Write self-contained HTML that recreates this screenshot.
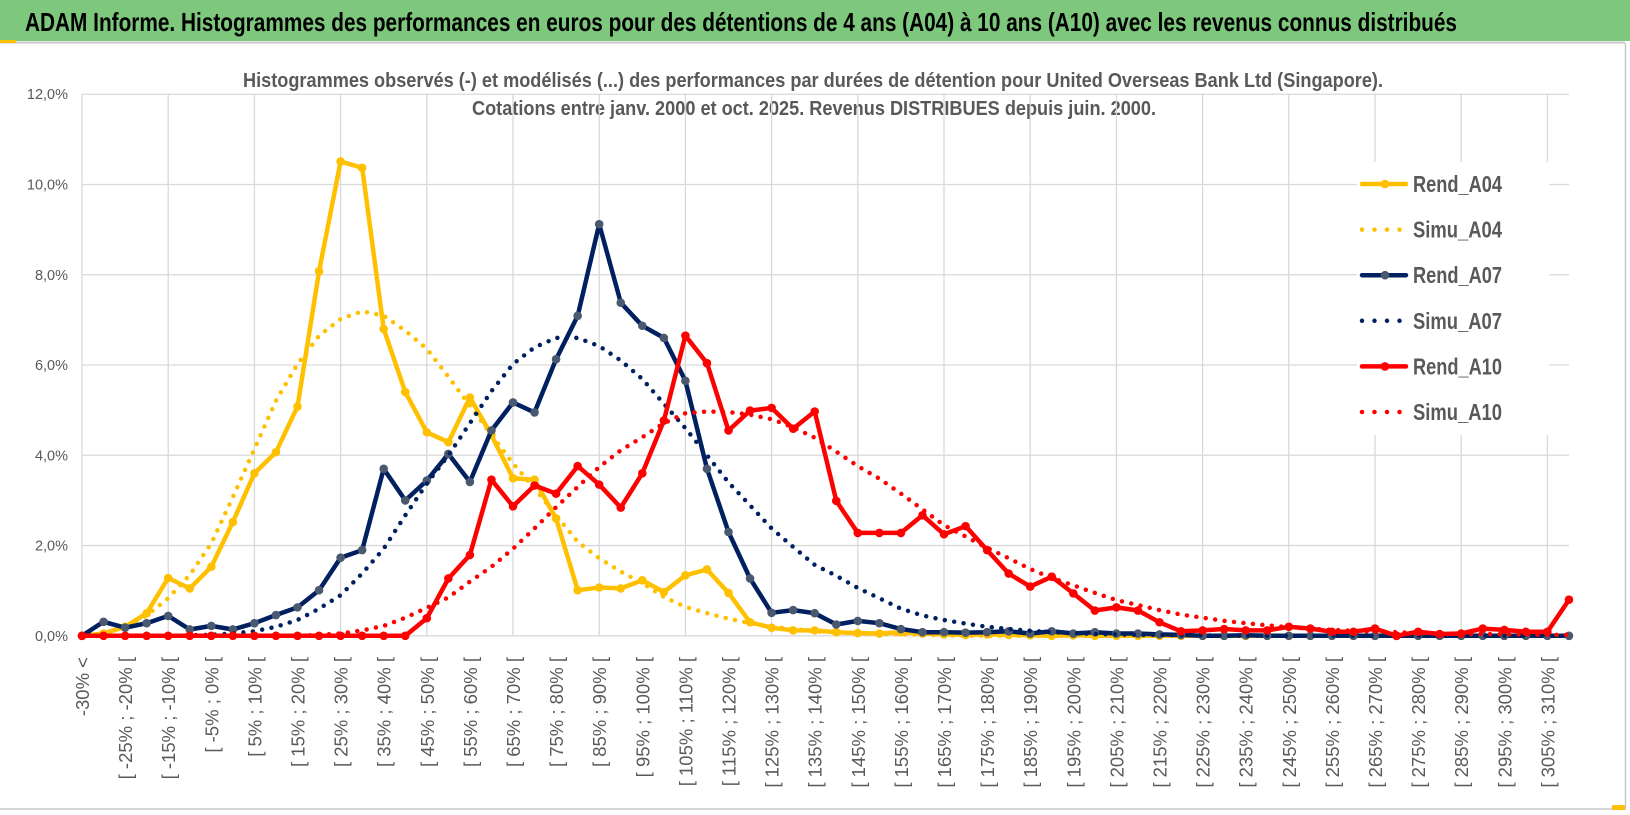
<!DOCTYPE html>
<html><head><meta charset="utf-8"><style>
html,body{margin:0;padding:0;background:#fff;}
svg{display:block;font-family:"Liberation Sans",sans-serif;}
</style></head><body>
<svg id="chart" width="1630" height="815" viewBox="0 0 1630 815">
<rect x="0" y="0" width="1630" height="815" fill="#fff"/>
<rect x="0" y="0" width="1630" height="41" fill="#7dc87d"/>
<line x1="0" y1="42.5" x2="1625" y2="42.5" stroke="#c8c8c8" stroke-width="2"/>
<rect x="0" y="40" width="16" height="3" fill="#ffc000"/>
<line x1="1625.5" y1="43" x2="1625.5" y2="809" stroke="#c8c8c8" stroke-width="1.5"/>
<line x1="0" y1="809" x2="1626" y2="809" stroke="#c8c8c8" stroke-width="1.5"/>
<rect x="1612" y="805" width="13" height="5" fill="#ffc000"/>
<text x="25" y="31" font-size="26" font-weight="bold" fill="#000" textLength="1432" lengthAdjust="spacingAndGlyphs">ADAM Informe. Histogrammes des performances en euros pour des détentions de 4 ans (A04) à 10 ans (A10) avec les revenus connus distribués</text>
<text x="243" y="87" font-size="20" font-weight="bold" fill="#595959" textLength="1140" lengthAdjust="spacingAndGlyphs">Histogrammes observés (-) et modélisés (...) des performances par durées de détention pour United Overseas Bank Ltd (Singapore).</text>
<text x="472" y="115" font-size="20" font-weight="bold" fill="#595959" textLength="684" lengthAdjust="spacingAndGlyphs">Cotations entre janv. 2000 et oct. 2025.  Revenus DISTRIBUES depuis juin. 2000.</text>
<g id="grid"></g>
<g id="yaxis"></g>
<g id="xaxis"></g>
<g id="series"></g>
<g id="legend"></g>
</svg>
<script>
const categories = ["-30% <","[ -30% ; -25% [","[ -25% ; -20% [","[ -20% ; -15% [","[ -15% ; -10% [","[ -10% ; -5% [","[ -5% ; 0% [","[ 0% ; 5% [","[ 5% ; 10% [","[ 10% ; 15% [","[ 15% ; 20% [","[ 20% ; 25% [","[ 25% ; 30% [","[ 30% ; 35% [","[ 35% ; 40% [","[ 40% ; 45% [","[ 45% ; 50% [","[ 50% ; 55% [","[ 55% ; 60% [","[ 60% ; 65% [","[ 65% ; 70% [","[ 70% ; 75% [","[ 75% ; 80% [","[ 80% ; 85% [","[ 85% ; 90% [","[ 90% ; 95% [","[ 95% ; 100% [","[ 100% ; 105% [","[ 105% ; 110% [","[ 110% ; 115% [","[ 115% ; 120% [","[ 120% ; 125% [","[ 125% ; 130% [","[ 130% ; 135% [","[ 135% ; 140% [","[ 140% ; 145% [","[ 145% ; 150% [","[ 150% ; 155% [","[ 155% ; 160% [","[ 160% ; 165% [","[ 165% ; 170% [","[ 170% ; 175% [","[ 175% ; 180% [","[ 180% ; 185% [","[ 185% ; 190% [","[ 190% ; 195% [","[ 195% ; 200% [","[ 200% ; 205% [","[ 205% ; 210% [","[ 210% ; 215% [","[ 215% ; 220% [","[ 220% ; 225% [","[ 225% ; 230% [","[ 230% ; 235% [","[ 235% ; 240% [","[ 240% ; 245% [","[ 245% ; 250% [","[ 250% ; 255% [","[ 255% ; 260% [","[ 260% ; 265% [","[ 265% ; 270% [","[ 270% ; 275% [","[ 275% ; 280% [","[ 280% ; 285% [","[ 285% ; 290% [","[ 290% ; 295% [","[ 295% ; 300% [","[ 300% ; 305% [","[ 305% ; 310% [","[ 310% ; 315% ["];
const yTicks = [0,2,4,6,8,10,12];
const yTickLabels = ["0,0%","2,0%","4,0%","6,0%","8,0%","10,0%","12,0%"];
const rendA04 = [0,0.05,0.2,0.5,1.28,1.05,1.53,2.52,3.6,4.07,5.08,8.08,10.51,10.37,6.8,5.4,4.51,4.29,5.28,4.45,3.49,3.46,2.6,1.01,1.07,1.05,1.23,0.97,1.34,1.47,0.95,0.3,0.18,0.12,0.12,0.08,0.06,0.05,0.08,0.05,0.03,0.02,0.03,0.02,0.01,0,0.01,0,0,0,0,0,0,0,0,0,0,0,0,0,0,0,0,0,0,0,0,0,0,0];
const simuA04 = [0,0.05,0.2,0.45,0.83,1.35,2.05,3.07,4.14,5.21,6.02,6.65,7.02,7.19,7.09,6.76,6.36,5.74,5.1,4.45,3.82,3.27,2.67,2.08,1.72,1.42,1.17,0.86,0.64,0.5,0.38,0.28,0.2,0.15,0.1,0.08,0.05,0.04,0.03,0.02,0.01,0,0,0,0,0,0,0,0,0,0,0,0,0,0,0,0,0,0,0,0,0,0,0,0,0,0,0,0,0];
const rendA07 = [0,0.31,0.18,0.28,0.44,0.14,0.22,0.14,0.28,0.46,0.63,1.01,1.73,1.9,3.7,3.0,3.44,4.03,3.41,4.55,5.17,4.95,6.13,7.09,9.12,7.38,6.87,6.6,5.65,3.7,2.3,1.27,0.51,0.57,0.5,0.25,0.33,0.28,0.15,0.08,0.08,0.07,0.08,0.1,0.05,0.1,0.05,0.08,0.05,0.05,0.03,0.02,0,0,0.01,0,0,0,0,0,0,0,0,0,0,0,0,0,0,0];
const simuA07 = [0,0,0,0,0,0.01,0.02,0.05,0.1,0.2,0.35,0.6,0.9,1.38,1.93,2.67,3.37,4.0,4.71,5.42,6.02,6.39,6.6,6.6,6.42,6.1,5.69,5.14,4.6,4.0,3.4,2.89,2.38,1.97,1.57,1.33,1.06,0.83,0.6,0.45,0.35,0.27,0.2,0.15,0.11,0.08,0.06,0.04,0.03,0.02,0.02,0.01,0.01,0,0,0,0,0,0,0,0,0,0,0,0,0,0,0,0,0];
const rendA10 = [0,0,0,0,0,0,0,0,0,0,0,0,0,0,0,0,0.39,1.27,1.79,3.46,2.87,3.33,3.15,3.76,3.35,2.84,3.6,4.77,6.65,6.04,4.55,4.99,5.05,4.59,4.97,2.99,2.28,2.28,2.28,2.67,2.25,2.43,1.9,1.38,1.09,1.31,0.94,0.56,0.63,0.56,0.3,0.1,0.12,0.15,0.12,0.12,0.2,0.16,0.09,0.09,0.16,0,0.09,0.04,0.05,0.16,0.13,0.09,0.09,0.8];
const simuA10 = [0,0,0,0,0,0,0,0,0,0,0,0.02,0.05,0.12,0.22,0.4,0.62,0.85,1.2,1.53,1.93,2.38,2.85,3.3,3.74,4.11,4.4,4.71,4.93,4.97,4.96,4.9,4.8,4.62,4.39,4.08,3.76,3.48,3.15,2.8,2.45,2.2,1.95,1.72,1.48,1.28,1.12,0.95,0.79,0.68,0.57,0.47,0.4,0.33,0.28,0.23,0.19,0.16,0.13,0.11,0.09,0.08,0.06,0.05,0.04,0.04,0.03,0.03,0.02,0.02];

const NS = "http://www.w3.org/2000/svg";
const X0 = 82, DX = 21.55, Y0 = 635.8, PPU = 45.13;
function xPos(i){ return X0 + DX * i; }
function yPos(v){ return Y0 - PPU * v; }
function mk(tag, attrs, parent){ const e = document.createElementNS(NS, tag); for (const k in attrs) e.setAttribute(k, attrs[k]); parent.appendChild(e); return e; }
const xRight = xPos(categories.length - 1);

const grid = document.getElementById('grid');
yTicks.forEach((t) => {
  const l = mk('line', {x1: X0, x2: xRight, y1: yPos(t), y2: yPos(t), stroke: '#d9d9d9', 'stroke-width': 1.3}, grid);
  
  
});
for (let i = 0; i < categories.length; i += 4) {
  const l = mk('line', {x1: xPos(i), x2: xPos(i), y1: yPos(12), y2: Y0, stroke: '#d9d9d9', 'stroke-width': 1.3}, grid);
  
  
}

const yax = document.getElementById('yaxis');
yTicks.forEach((t, k) => {
  const tx = mk('text', {x: 68, y: yPos(t) + 5, 'text-anchor': 'end', 'font-size': 14.5, fill: '#595959'}, yax);
  tx.textContent = yTickLabels[k];
  
  
});

const xax = document.getElementById('xaxis');
categories.forEach((c, i) => {
  if (i % 2 !== 0) return;
  const x = xPos(i) + 7;
  const tx = mk('text', {x: x, y: 657, 'text-anchor': 'end', 'font-size': 18.5, fill: '#595959', transform: 'rotate(-90 ' + x + ' 657)'}, xax);
  tx.textContent = c;
  
  
});

const seriesG = document.getElementById('series');
const seriesDefs = [
  {name: 'Rend_A04', data: rendA04, color: '#ffc000', marker: '#ffc000', dotted: false},
  {name: 'Simu_A04', data: simuA04, color: '#ffc000', dotted: true},
  {name: 'Rend_A07', data: rendA07, color: '#002060', marker: '#4a5870', dotted: false},
  {name: 'Simu_A07', data: simuA07, color: '#002060', dotted: true},
  {name: 'Rend_A10', data: rendA10, color: '#ff0000', marker: '#ff0000', dotted: false},
  {name: 'Simu_A10', data: simuA10, color: '#ff0000', dotted: true}
];
seriesDefs.forEach((s) => {
  const g = mk('g', {}, seriesG);
  
  
  const pts = s.data.map((v, i) => xPos(i).toFixed(1) + ',' + yPos(v).toFixed(1)).join(' ');
  const pl = mk('polyline', {points: pts, fill: 'none', stroke: s.color, 'stroke-width': s.dotted ? 4.5 : 4.5, 'stroke-linejoin': 'round', 'stroke-linecap': 'round'}, g);
  if (s.dotted) pl.setAttribute('stroke-dasharray', '0 9.5');
  
  
  if (!s.dotted) {
    s.data.forEach((v, i) => {
      const c = mk('circle', {cx: xPos(i), cy: yPos(v), r: 4.3, fill: s.marker}, g);
      
      
    });
  }
});

const leg = document.getElementById('legend');
const lbg = mk('rect', {x: 1357, y: 162, width: 192, height: 273, fill: '#fff'}, leg);


seriesDefs.forEach((s, k) => {
  const y = 184 + 45.6 * k;
  const g = mk('g', {}, leg);
  
  
  const l = mk('line', {x1: s.dotted ? 1362 : 1362, x2: s.dotted ? 1400 : 1406, y1: y, y2: y, stroke: s.color, 'stroke-width': 4.5, 'stroke-linecap': 'round'}, g);
  if (s.dotted) l.setAttribute('stroke-dasharray', '0 12.5');
  
  
  if (!s.dotted) {
    const c = mk('circle', {cx: 1385, cy: y, r: 4.3, fill: s.marker}, g);
    
    
  }
  const t = mk('text', {x: 1413, y: y + 8, 'font-size': 23, 'font-weight': 'bold', fill: '#595959', textLength: 89, lengthAdjust: 'spacingAndGlyphs'}, g);
  t.textContent = s.name;
  
  
});
</script>
</body></html>
